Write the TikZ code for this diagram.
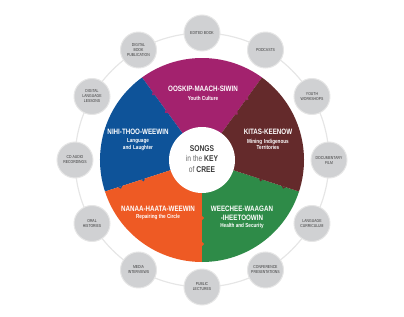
\documentclass[tikz,border=0pt]{standalone}
\usepackage{fontspec}
\setmainfont{Liberation Sans}[FakeStretch=0.80]
\usepackage{xcolor}
\usepackage{tikz}
\usetikzlibrary{positioning}

\definecolor{magentaC}{HTML}{A3226E}
\definecolor{brownC}{HTML}{642A2B}
\definecolor{greenC}{HTML}{2E8B48}
\definecolor{orangeC}{HTML}{EE5A24}
\definecolor{blueC}{HTML}{0E5399}
\definecolor{pillC}{HTML}{D0D1D3}
\definecolor{ringC}{HTML}{E6E6E6}
\definecolor{inkC}{HTML}{3A3A3A}

\begin{document}
\begin{tikzpicture}[
  x=1pt, y=1pt,
  ring/.style={draw=ringC, line width=1.2pt},
  pill/.style={circle, fill=pillC, draw=ringC, line width=1pt, minimum size=36pt,
    inner sep=0pt, align=center, text=inkC, font=\fontsize{4.3}{5}\selectfont},
  ttl/.style={text=white, align=center, font=\bfseries\fontsize{7.8}{8.8}\selectfont},
  sub/.style={text=white, align=center, font=\bfseries\fontsize{5.8}{6.8}\selectfont},
  hub/.style={text=inkC, align=center, font=\fontsize{8.4}{10.8}\selectfont}
]
\useasboundingbox (-202,-156) rectangle (202,160);

% ── Outer ring of outputs ──
\draw[ring] (0,0) circle[radius=127];

\node[pill] (book)     at (90:127)  {EDITED BOOK};
\node[pill] (podcast)  at (60:127)  {PODCASTS};
\node[pill] (workshop) at (30:127)  {YOUTH\\WORKSHOPS};
\node[pill] (film)     at (0:127)   {DOCUMENTARY\\FILM};
\node[pill] (curric)   at (-30:127) {LANGUAGE\\CURRICULUM};
\node[pill] (confer)   at (-60:127) {CONFERENCE\\PRESENTATIONS};
\node[pill] (lecture)  at (-90:127) {PUBLIC\\LECTURES};
\node[pill] (media)    at (-120:127) {MEDIA\\INTERVIEWS};
\node[pill] (oral)     at (-150:127) {ORAL\\HISTORIES};
\node[pill] (audio)    at (180:127) {CD AUDIO\\RECORDINGS};
\node[pill] (lesson)   at (150:127) {DIGITAL\\LANGUAGE\\LESSONS};
\node[pill] (digbook)  at (120:127) {DIGITAL\\BOOK\\PUBLICATION};

% ── Wheel segments ──
\fill[magentaC] (0,0) -- (54:102) arc[start angle=54, end angle=126, radius=102] -- cycle;
\fill[blueC]    (0,0) -- (126:102) arc[start angle=126, end angle=198, radius=102] -- cycle;
\fill[orangeC]  (0,0) -- (198:102) arc[start angle=198, end angle=270, radius=102] -- cycle;
\fill[greenC]   (0,0) -- (270:102) arc[start angle=270, end angle=342, radius=102] -- cycle;
\fill[brownC]   (0,0) -- (-18:102) arc[start angle=-18, end angle=54, radius=102] -- cycle;

% small teeth along the seams
\fill[magentaC] (126:58) -- (128.2:60) -- (126:62) -- cycle;
\fill[magentaC] (126:80) -- (127.6:82) -- (126:84) -- cycle;
\fill[magentaC] (54:56)  -- (51.8:58)  -- (54:60)  -- cycle;
\fill[magentaC] (54:74)  -- (52.3:76)  -- (54:78)  -- cycle;
\fill[blueC]    (198:60) -- (200.1:62) -- (198:64) -- cycle;
\fill[blueC]    (198:84) -- (199.5:86) -- (198:88) -- cycle;
\fill[brownC]   (-18:60) -- (-20.1:62) -- (-18:64) -- cycle;
\fill[brownC]   (-18:84) -- (-19.5:86) -- (-18:88) -- cycle;
\fill[orangeC]  (270:56) -- (272.1:58) -- (270:60) -- cycle;
\fill[orangeC]  (270:82) -- (271.5:84) -- (270:86) -- cycle;

% ── Centre ──
\fill[white] (0,0) circle[radius=33];
\node[hub] (hub) at (0,1)
  {\textbf{SONGS}\\{\color{inkC!75}in the} \textbf{KEY}\\{\color{inkC!75}of} \textbf{CREE}};

% ── Segment labels ──
\node[ttl] (youth) at (1,71)   {OOSKIP-MAACH-SIWIN};
\node[sub] at (1,62)           {Youth Culture};

\node[ttl] (laugh) at (-64,28) {NIHI-THOO-WEEWIN};
\node[sub, text width=60pt] at (-64,15.5) {Language\\and Laughter};

\node[ttl] (mining) at (66,28) {KITAS-KEENOW};
\node[sub, text width=60pt] at (66,15.5) {Mining Indigenous\\Territories};

\node[ttl] (repair) at (-44,-49) {NANAA-HAATA-WEEWIN};
\node[sub] at (-44,-57)          {Repairing the Circle};

\node[ttl, text width=70pt] (health) at (40,-53) {WEECHEE-WAAGAN\\-IHEETOOWIN};
\node[sub] at (40,-66)           {Health and Security};

\end{tikzpicture}
\end{document}
